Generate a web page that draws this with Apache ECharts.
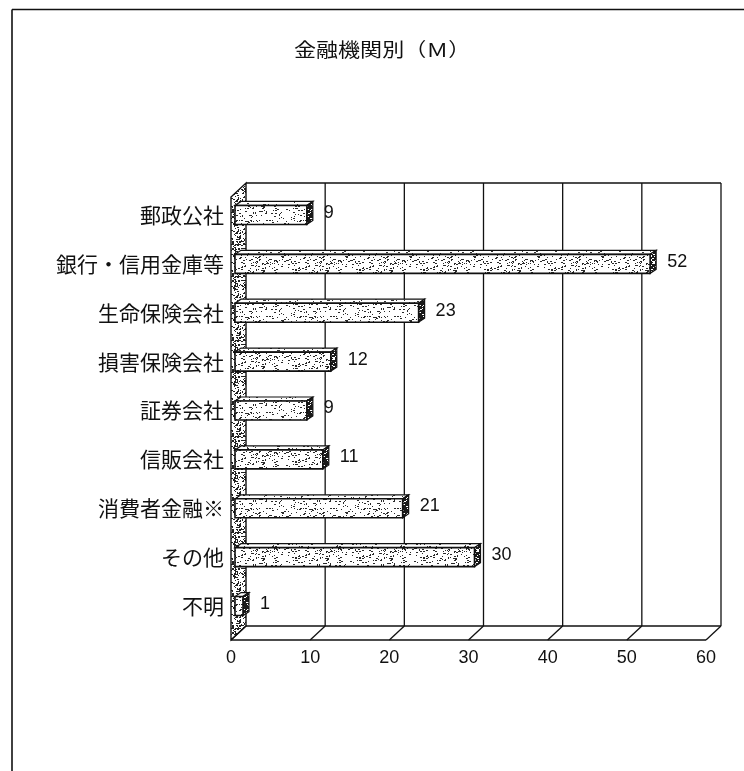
<!DOCTYPE html>
<html>
<head>
<meta charset="utf-8">
<script src="https://cdn.jsdelivr.net/npm/echarts@6/dist/echarts.min.js"></script>
<style>
  html, body { margin: 0; padding: 0; background: #fff; }
  #chart { width: 744px; height: 771px; }
</style>
</head>
<body>
<div id="chart"></div>
<script>
// Data
const titleText = '金融機関別（Ｍ）';
const categories = ['郵政公社', '銀行・信用金庫等', '生命保険会社', '損害保険会社', '証券会社', '信販会社', '消費者金融※', 'その他', '不明'];
const values = [9, 52, 23, 12, 9, 11, 21, 30, 1];
const tickValues = [0, 10, 20, 30, 40, 50, 60];

// Speckled fill textures (fixed hash, so the texture is the same every time)
function makeSpeckle(w, h, bg, ink, density, seed) {
  const c = document.createElement('canvas');
  c.width = w; c.height = h;
  const g = c.getContext('2d');
  g.fillStyle = bg; g.fillRect(0, 0, w, h);
  g.fillStyle = ink;
  let s = seed;
  const next = () => { s = (s * 1103515245 + 12345) & 0x7fffffff; return s / 0x7fffffff; };
  const n = Math.round(w * h * density);
  for (let i = 0; i < n; i++) {
    const x = Math.floor(next() * w), y = Math.floor(next() * h);
    const len = next() < 0.4 ? 2 : 1;
    g.fillRect(x, y, len, 1);
  }
  return c;
}
const barTex = makeSpeckle(64, 32, '#ffffff', '#2a2a2a', 0.10, 7);
const topTex = makeSpeckle(64, 32, '#ffffff', '#333333', 0.05, 11);
const capTex = makeSpeckle(16, 16, '#1a1a1a', '#ffffff', 0.22, 3);
const wallTex = makeSpeckle(32, 32, '#ffffff', '#222222', 0.28, 5);

// Depth of the 3D box and of each bar
const BOX_DX = 15, BOX_DY = 14;
const BAR_DX = 6, BAR_DY = 4, BAR_H = 19;

const chart = echarts.init(document.getElementById('chart'), null, { renderer: 'canvas' });

function renderFrame(params, api) {
  const gridTop = params.coordSys.y;
  const gridBot = params.coordSys.y + params.coordSys.height;
  const line = (x1, y1, x2, y2) => ({
    type: 'line', shape: { x1, y1, x2, y2 },
    style: { stroke: '#111', lineWidth: 1.3 }
  });
  const children = [];
  const x0 = api.coord([0, 0])[0];
  const x60 = api.coord([60, 0])[0];
  // left wall
  children.push({
    type: 'polygon',
    shape: { points: [[x0, gridTop], [x0, gridBot], [x0 + BOX_DX, gridBot - BOX_DY], [x0 + BOX_DX, gridTop - BOX_DY]] },
    style: { fill: { image: wallTex, repeat: 'repeat' }, stroke: '#111', lineWidth: 1.4 }
  });
  // back wall outline
  children.push(line(x0 + BOX_DX, gridTop - BOX_DY, x60 + BOX_DX, gridTop - BOX_DY));
  children.push(line(x60 + BOX_DX, gridTop - BOX_DY, x60 + BOX_DX, gridBot - BOX_DY));
  // floor
  children.push(line(x0, gridBot, x60, gridBot));
  children.push(line(x0 + BOX_DX, gridBot - BOX_DY, x60 + BOX_DX, gridBot - BOX_DY));
  tickValues.forEach(v => {
    const x = api.coord([v, 0])[0];
    children.push(line(x, gridBot, x + BOX_DX, gridBot - BOX_DY));
    if (v > 0 && v < 60) {
      children.push(line(x + BOX_DX, gridTop - BOX_DY, x + BOX_DX, gridBot - BOX_DY));
    }
  });
  return { type: 'group', children };
}

function renderBar(params, api) {
  const cat = api.value(1);
  const val = api.value(0);
  const start = api.coord([0, cat]);
  const end = api.coord([val, cat]);
  const yc = end[1];
  const y0 = yc - BAR_H / 2;
  const xs = start[0], xe = end[0];
  return {
    type: 'group',
    children: [
      {
        type: 'polygon',
        shape: { points: [[xs, y0], [xe, y0], [xe + BAR_DX, y0 - BAR_DY], [xs + BAR_DX, y0 - BAR_DY]] },
        style: { fill: { image: topTex, repeat: 'repeat' }, stroke: '#111', lineWidth: 1.2 }
      },
      {
        type: 'polygon',
        shape: { points: [[xe, y0], [xe + BAR_DX, y0 - BAR_DY], [xe + BAR_DX, y0 + BAR_H - BAR_DY], [xe, y0 + BAR_H]] },
        style: { fill: { image: capTex, repeat: 'repeat' }, stroke: '#111', lineWidth: 1.2 }
      },
      {
        type: 'rect',
        shape: { x: xs, y: y0, width: xe - xs, height: BAR_H },
        style: { fill: { image: barTex, repeat: 'repeat' }, stroke: '#111', lineWidth: 1.6 }
      },
      {
        type: 'text',
        style: {
          text: String(val), x: xe + BAR_DX + 11, y: yc - 2,
          align: 'left', verticalAlign: 'middle',
          font: '18px "Liberation Sans", Arial, sans-serif', fill: '#111'
        }
      }
    ]
  };
}

const option = {
  backgroundColor: '#ffffff',
  animation: false,
  grid: [
    { left: 231, top: 197, width: 475, height: 443 },
    { left: 235, top: 190.5, width: 479, height: 440 }
  ],
  xAxis: [
    {
      gridIndex: 0, type: 'value', min: 0, max: 60, interval: 10,
      axisLine: { show: false }, axisTick: { show: false }, splitLine: { show: false },
      axisLabel: {
        margin: 9, color: '#111', fontSize: 18, fontFamily: '"Liberation Sans", Arial, sans-serif',
        formatter: v => String(tickValues.find(t => t === v))
      }
    },
    {
      gridIndex: 1, type: 'value', min: 0, max: 60, interval: 10,
      axisLine: { show: false }, axisTick: { show: false }, splitLine: { show: false }, axisLabel: { show: false }
    }
  ],
  yAxis: [
    {
      gridIndex: 0, type: 'category', data: categories, inverse: true,
      axisLine: { show: false }, axisTick: { show: false }, axisLabel: { show: false }
    },
    {
      gridIndex: 1, type: 'category', data: categories, inverse: true,
      axisLine: { show: false }, axisTick: { show: false },
      axisLabel: {
        margin: 11, color: '#111', fontSize: 21, fontFamily: '"Noto Sans CJK JP", sans-serif'
      }
    }
  ],
  series: [
    {
      type: 'custom', name: 'frame', xAxisIndex: 0, yAxisIndex: 0,
      renderItem: renderFrame, data: [[0, 0]], silent: true, z: 1
    },
    {
      type: 'custom', name: '金融機関別', xAxisIndex: 1, yAxisIndex: 1,
      renderItem: renderBar,
      data: values.map((v, i) => [v, i]),
      encode: { x: 0, y: 1 }, z: 2
    }
  ],
  graphic: [
    { type: 'line', shape: { x1: 12, y1: 9.5, x2: 744, y2: 9.5 }, style: { stroke: '#111', lineWidth: 1.6 } },
    { type: 'line', shape: { x1: 12, y1: 9.5, x2: 12, y2: 771 }, style: { stroke: '#111', lineWidth: 1.6 } },
    {
      type: 'text', x: 294, y: 50, scaleX: 1.16, scaleY: 1,
      style: {
        text: titleText, align: 'left', verticalAlign: 'middle',
        font: '19px "Noto Sans CJK JP", sans-serif', fill: '#111'
      }
    }
  ]
};
chart.setOption(option);
</script>
</body>
</html>
